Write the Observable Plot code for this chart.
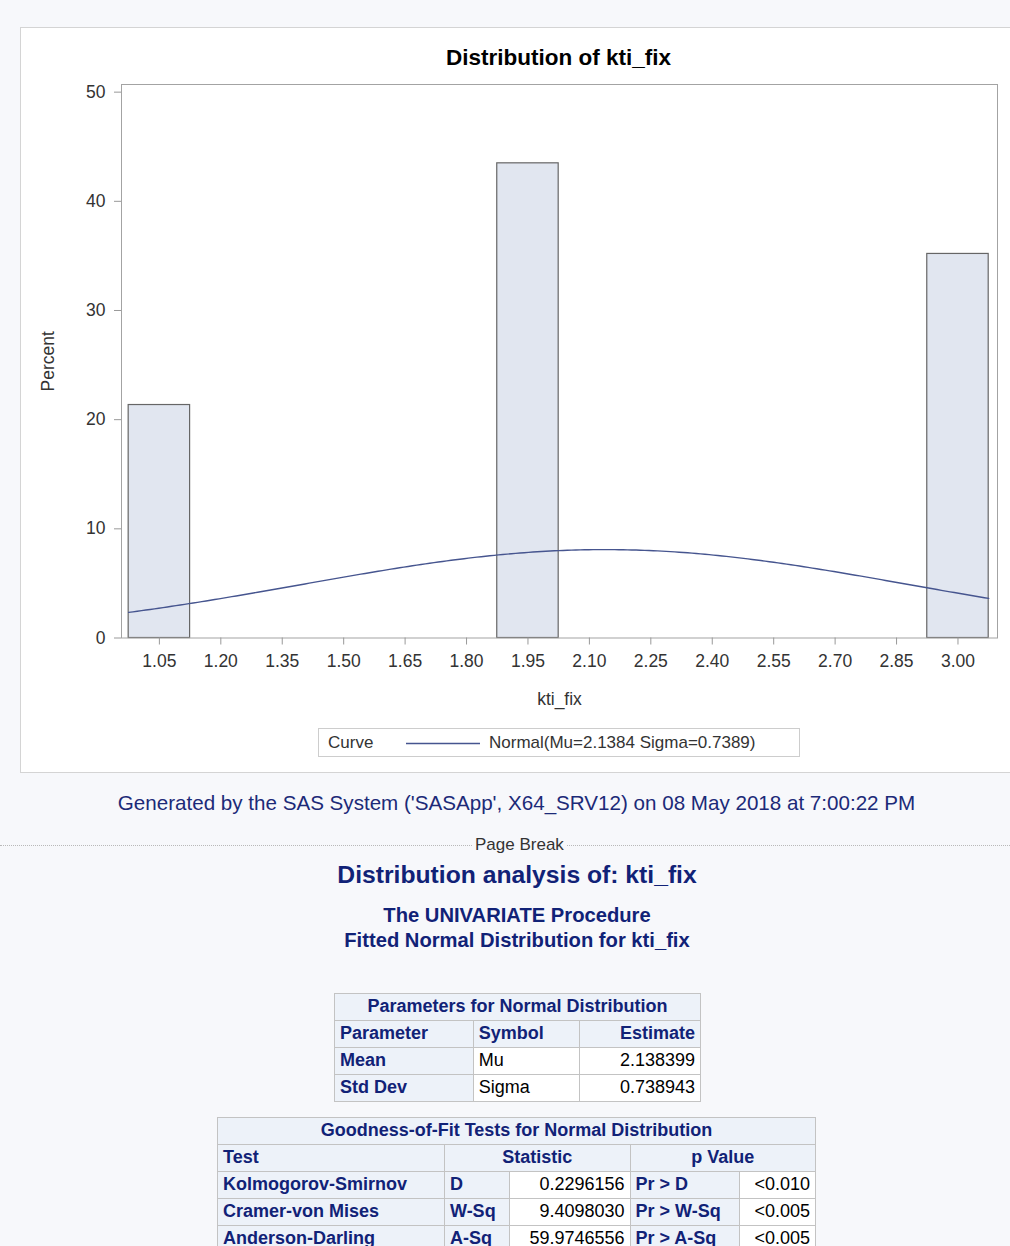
<!DOCTYPE html>
<html>
<head>
<meta charset="utf-8">
<script src="https://cdn.jsdelivr.net/npm/d3@7"></script>
<script src="https://cdn.jsdelivr.net/npm/@observablehq/plot@0.6"></script>
<style>
  html, body { margin: 0; padding: 0; }
  body {
    width: 1010px; height: 1246px; overflow: hidden; position: relative;
    background: #f7f8fb;
    font-family: "Liberation Sans", Arial, sans-serif;
  }
  #panel {
    position: absolute; left: 20px; top: 27px; width: 1010px; height: 746px;
    background: #fff; border: 1px solid #d4d4d4; box-sizing: border-box;
  }
  #title {
    position: absolute; left: 121px; width: 875px; top: 45px;
    text-align: center; font-weight: bold; font-size: 22.5px; color: #000;
  }
  #chart { position: absolute; left: 21px; top: 72px; }
  #legend {
    position: absolute; left: 318px; top: 728px; width: 482px; height: 29px;
    border: 1px solid #cdcdcd; box-sizing: border-box; background: #fff;
    font-size: 17px; color: #333;
  }
  #legend .k { position: absolute; left: 9px; top: 4px; }
  #legend svg { position: absolute; left: 87px; top: 0; }
  #legend .v { position: absolute; left: 170px; top: 4px; }
  #footnote {
    position: absolute; left: 0; width: 1033px; top: 791px; text-align: center;
    font-size: 20.6px; color: #1c2a78;
  }
  #pagebreak {
    position: absolute; left: 0; width: 1010px; top: 845px; height: 0;
    border-top: 1px dotted #b9b9b9;
  }
  #pagebreak span {
    position: absolute; left: 473px; top: -10px; padding: 0 2px;
    background: #f7f8fb; font-size: 17px; color: #333; line-height: 18px;
  }
  #heads {
    position: absolute; left: 0; width: 1034px; top: 859px; text-align: center; color: #112277;
    font-weight: bold;
  }
  #heads .h1 { font-size: 24.7px; line-height: 32px; }
  #heads .h2 { font-size: 20.2px; line-height: 25px; margin-top: 12px; }
  table {
    position: absolute; border-collapse: collapse; font-size: 18px; color: #000;
    background: #fff;
  }
  td, th {
    border: 1px solid #c3c3c3; padding: 0 5px 2px 5px; height: 24px; white-space: nowrap;
    line-height: 20px;
  }
  th { background: #edf2f9; color: #112277; font-weight: bold; }
  .l { text-align: left; } .c { text-align: center; } .r { text-align: right; }
  #params { left: 334px; top: 993px; width: 367px; }
  #gof { left: 217px; top: 1117px; width: 599px; }
  #gof tr > :first-child { width: 216px; }
</style>
</head>
<body>
<div id="panel"></div>
<div id="title">Distribution of kti_fix</div>
<div id="chart"></div>
<div id="legend">
  <span class="k">Curve</span>
  <svg width="76" height="29"><line x1="0" x2="74" y1="14.5" y2="14.5" stroke="#46558f" stroke-width="1.4"></line></svg>
  <span class="v" id="legendText"></span>
</div>
<div id="footnote">Generated by the SAS System ('SASApp', X64_SRV12) on 08 May 2018 at 7:00:22 PM</div>
<div id="pagebreak"><span>Page Break</span></div>
<div id="heads">
  <div class="h1">Distribution analysis of: kti_fix</div>
  <div class="h2">The UNIVARIATE Procedure<br>Fitted Normal Distribution for kti_fix</div>
</div>
<table id="params"></table>
<table id="gof"></table>

<script>
// Histogram of kti_fix: bin midpoints and the percent of observations in each
const binMidpoints = [1.05, 1.95, 3.00];
const binPercents = [21.34, 43.48, 35.18];
const binWidth = 0.15;

// Fitted normal parameters
const mu = 2.1384;
const sigma = 0.7389;

// Axis ticks
const xTicks = [1.05, 1.20, 1.35, 1.50, 1.65, 1.80, 1.95, 2.10, 2.25, 2.40, 2.55, 2.70, 2.85, 3.00];
const yTicks = [0, 10, 20, 30, 40, 50];

// Parameter table rows
const paramNames = ["Mean", "Std Dev"];
const paramSymbols = ["Mu", "Sigma"];
const paramEstimates = ["2.138399", "0.738943"];

// Goodness-of-fit table rows
const testNames = ["Kolmogorov-Smirnov", "Cramer-von Mises", "Anderson-Darling"];
const testSymbols = ["D", "W-Sq", "A-Sq"];
const testStatistics = ["0.2296156", "9.4098030", "59.9746556"];
const pLabels = ["Pr > D", "Pr > W-Sq", "Pr > A-Sq"];
const pValues = ["<0.010", "<0.005", "<0.005"];

const bars = binMidpoints.map((m, i) => ({
  x1: m - binWidth / 2,
  x2: m + binWidth / 2,
  percent: binPercents[i]
}));

// Normal density with the fitted mu and sigma, expressed as percent per bin
const lo = binMidpoints[0] - binWidth / 2;
const hi = binMidpoints[binMidpoints.length - 1] + binWidth / 2;
const curve = d3.range(lo, hi + 1e-9, (hi - lo) / 200).map(x => ({
  x,
  percent: 100 * binWidth * Math.exp(-0.5 * ((x - mu) / sigma) ** 2) / (sigma * Math.sqrt(2 * Math.PI))
}));

const chart = Plot.plot({
  width: 989,
  height: 650,
  marginLeft: 100,
  marginRight: 13,
  marginTop: 12,
  marginBottom: 84.5,
  x: { domain: [0.9575, 3.0965] },
  y: { domain: [0, 50.7] },
  style: {
    fontFamily: "Liberation Sans, Arial, sans-serif",
    fontSize: "17.5px",
    color: "#333",
    background: "#fff",
    overflow: "visible"
  },
  marks: [
    Plot.rect(bars, { x1: "x1", x2: "x2", y1: 0, y2: "percent", fill: "#e1e6f0", stroke: "#666", strokeWidth: 1.2 }),
    Plot.line(curve, { x: "x", y: "percent", stroke: "#46558f", strokeWidth: 1.4 }),
    Plot.frame({ stroke: "#a3a3a3" }),
    Plot.axisY({
      ticks: yTicks, tickSize: 7, tickPadding: 9, stroke: "#999",
      label: "Percent", labelAnchor: "center", labelArrow: "none", labelOffset: 80
    }),
    Plot.axisX({
      ticks: xTicks, tickSize: 7, tickPadding: 10, stroke: "#999",
      tickFormat: d3.format(".2f"),
      label: "kti_fix", labelAnchor: "center", labelArrow: "none", labelOffset: 67
    })
  ]
});
document.getElementById("chart").appendChild(chart);

document.getElementById("legendText").textContent =
  `Normal(Mu=${mu.toFixed(4)} Sigma=${sigma.toFixed(4)})`;

// Tables
const params = d3.select("#params");
params.append("tr").append("th").attr("colspan", 3).attr("class", "c").text("Parameters for Normal Distribution");
const ph = params.append("tr");
ph.append("th").attr("class", "l").text("Parameter");
ph.append("th").attr("class", "l").text("Symbol");
ph.append("th").attr("class", "r").text("Estimate");
paramNames.forEach((n, i) => {
  const tr = params.append("tr");
  tr.append("th").attr("class", "l").text(n);
  tr.append("td").attr("class", "l").text(paramSymbols[i]);
  tr.append("td").attr("class", "r").text(paramEstimates[i]);
});

const gof = d3.select("#gof");
gof.append("tr").append("th").attr("colspan", 5).attr("class", "c").text("Goodness-of-Fit Tests for Normal Distribution");
const gh = gof.append("tr");
gh.append("th").attr("class", "l").text("Test");
gh.append("th").attr("colspan", 2).attr("class", "c").text("Statistic");
gh.append("th").attr("colspan", 2).attr("class", "c").text("p Value");
testNames.forEach((n, i) => {
  const tr = gof.append("tr");
  tr.append("th").attr("class", "l").text(n);
  tr.append("th").attr("class", "l").text(testSymbols[i]);
  tr.append("td").attr("class", "r").text(testStatistics[i]);
  tr.append("th").attr("class", "l").text(pLabels[i]);
  tr.append("td").attr("class", "r").text(pValues[i]);
});
</script>
</body>
</html>
